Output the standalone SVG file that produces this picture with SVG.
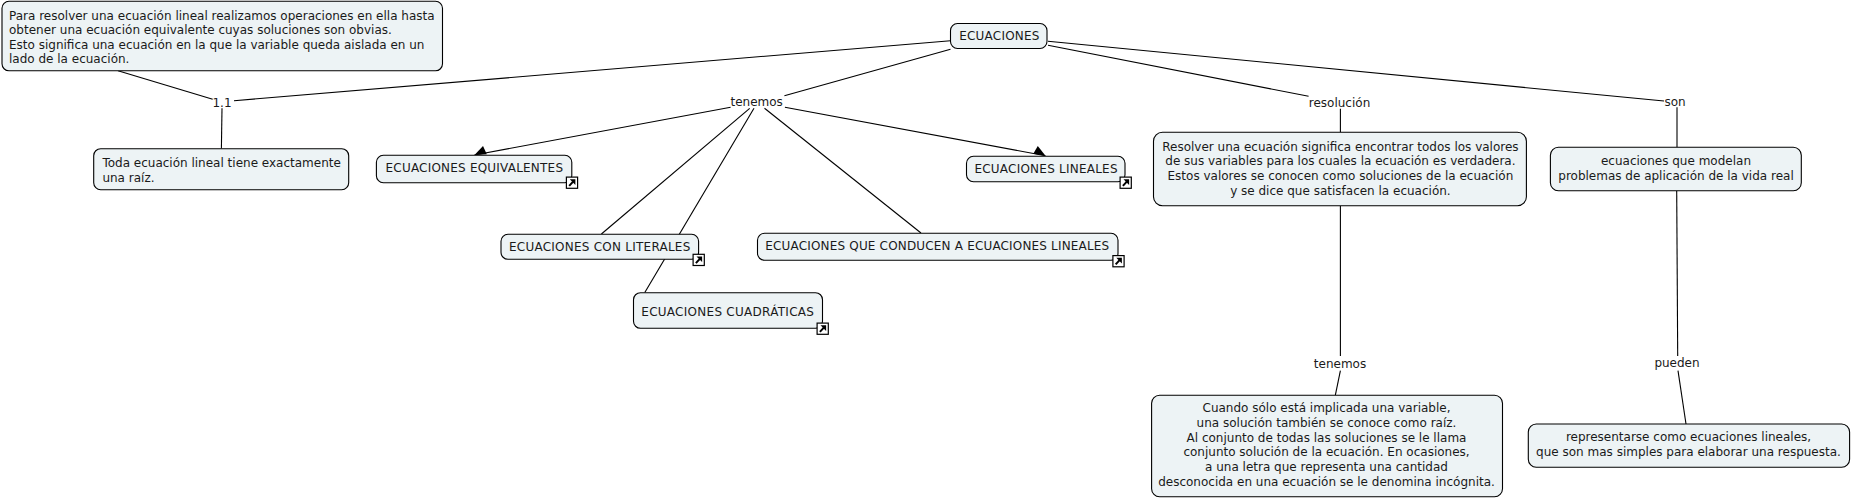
<svg xmlns="http://www.w3.org/2000/svg" width="1852" height="499" viewBox="0 0 1852 499">
<style>
.b{fill:#edf3f5;stroke:#000;stroke-width:1.1}
text{font-family:"DejaVu Sans",Verdana,sans-serif;font-size:12px;fill:#1a1a1a}
.m{text-anchor:middle}
.c line{stroke:#000;stroke-width:1.1}
</style>
<defs>
<marker id="a" markerUnits="userSpaceOnUse" markerWidth="13" markerHeight="11" refX="12" refY="5.5" orient="30"><path d="M0.5 1L12 5.5L0.5 10Z" fill="#000"/></marker>
<marker id="d" markerUnits="userSpaceOnUse" markerWidth="13" markerHeight="11" refX="12" refY="5.5" orient="155"><path d="M0.5 1L12 5.5L0.5 10Z" fill="#000"/></marker>
<g id="i"><rect x="0.6" y="0.6" width="11.2" height="11.2" fill="#fff" stroke="#000" stroke-width="1.2"/><path d="M4 2.8H9.6V8.4Z" fill="#000"/><path d="M7.3 5.1L3.4 9.4" fill="none" stroke="#000" stroke-width="2"/></g>
</defs>
<rect width="1852" height="499" fill="#fff"/>
<g id="connectors" class="c">
<line x1="950.5" y1="40.7" x2="234" y2="100.7"/>
<line x1="212.7" y1="99.3" x2="118" y2="70.7"/>
<line x1="222" y1="108.3" x2="221.4" y2="148.5"/>
<line x1="950.5" y1="49.3" x2="784.4" y2="95.7"/>
<line x1="730.6" y1="107.3" x2="474.5" y2="155" marker-end="url(#d)"/>
<line x1="784.9" y1="107.3" x2="1045.5" y2="155.7" marker-end="url(#a)"/>
<line x1="749.7" y1="108.3" x2="601.4" y2="234"/>
<line x1="754" y1="108.3" x2="644.8" y2="292.5"/>
<line x1="764.5" y1="108.3" x2="921" y2="233"/>
<line x1="1048" y1="45.3" x2="1308.6" y2="96.3"/>
<line x1="1340.4" y1="108.7" x2="1340.4" y2="132.3"/>
<line x1="1048" y1="41.3" x2="1664" y2="101"/>
<line x1="1677" y1="107.3" x2="1677" y2="147.3"/>
<line x1="1340.4" y1="205.7" x2="1340.4" y2="356"/>
<line x1="1340.4" y1="370.7" x2="1335.3" y2="395.3"/>
<line x1="1676.7" y1="190.7" x2="1677.7" y2="356"/>
<line x1="1678" y1="370.7" x2="1686" y2="424"/>
</g>
<g id="n-ecuaciones"><rect class="b" x="950.5" y="23.5" width="96.5" height="25" rx="7"/><text x="959.2" y="40" textLength="80.2">ECUACIONES</text></g>
<g id="n-para"><rect class="b" x="2" y="1.3" width="440.5" height="69.5" rx="7"/>
<text x="9" y="19.6">Para resolver una ecuación lineal realizamos operaciones en ella hasta</text>
<text x="9" y="34">obtener una ecuación equivalente cuyas soluciones son obvias.</text>
<text x="9" y="48.7">Esto significa una ecuación en la que la variable queda aislada en un</text>
<text x="9" y="63">lado de la ecuación.</text></g>
<g id="n-toda"><rect class="b" x="93.7" y="148.7" width="255" height="41" rx="7"/>
<text x="102.4" y="167.4">Toda ecuación lineal tiene exactamente</text><text x="102.4" y="182">una raíz.</text></g>
<g id="n-equivalentes"><rect class="b" x="376.4" y="155.3" width="195.4" height="27.4" rx="7"/><text x="385.5" y="172" textLength="177.5">ECUACIONES EQUIVALENTES</text><use href="#i" x="565.8" y="176.5"/></g>
<g id="n-lineales"><rect class="b" x="966.5" y="156.3" width="158.5" height="25.4" rx="7"/><text x="974.4" y="173" textLength="143.1">ECUACIONES LINEALES</text><use href="#i" x="1119.5" y="176.5"/></g>
<g id="n-literales"><rect class="b" x="501" y="234.3" width="197.6" height="25" rx="7"/><text x="509" y="251" textLength="181.3">ECUACIONES CON LITERALES</text><use href="#i" x="692.5" y="253.7"/></g>
<g id="n-conducen"><rect class="b" x="757.5" y="233.3" width="360.5" height="27" rx="7"/><text x="765.3" y="250" textLength="343.9">ECUACIONES QUE CONDUCEN A ECUACIONES LINEALES</text><use href="#i" x="1112.3" y="255"/></g>
<g id="n-cuadraticas"><rect class="b" x="633.5" y="292.7" width="189" height="35.6" rx="7"/><text x="641.3" y="316" textLength="172.6">ECUACIONES CUADRÁTICAS</text><use href="#i" x="816.5" y="322.5"/></g>
<g id="n-resolver"><rect class="b" x="1153.5" y="132.3" width="372.9" height="73.4" rx="9"/>
<text class="m" x="1340.4" y="150.7">Resolver una ecuación significa encontrar todos los valores</text>
<text class="m" x="1340.4" y="165.3">de sus variables para los cuales la ecuación es verdadera.</text>
<text class="m" x="1340.4" y="180">Estos valores se conocen como soluciones de la ecuación</text>
<text class="m" x="1340.4" y="195">y se dice que satisfacen la ecuación.</text></g>
<g id="n-modelan"><rect class="b" x="1550.4" y="147.3" width="250.9" height="43.4" rx="8"/>
<text class="m" x="1676" y="165">ecuaciones que modelan</text>
<text class="m" x="1676" y="180">problemas de aplicación de la vida real</text></g>
<g id="n-cuando"><rect class="b" x="1151.6" y="395.3" width="350.9" height="101.4" rx="8"/>
<text class="m" x="1326.5" y="412">Cuando sólo está implicada una variable,</text>
<text class="m" x="1326.5" y="427">una solución también se conoce como raíz.</text>
<text class="m" x="1326.5" y="441.5">Al conjunto de todas las soluciones se le llama</text>
<text class="m" x="1326.5" y="456">conjunto solución de la ecuación. En ocasiones,</text>
<text class="m" x="1326.5" y="471">a una letra que representa una cantidad</text>
<text class="m" x="1326.5" y="485.7">desconocida en una ecuación se le denomina incógnita.</text></g>
<g id="n-representarse"><rect class="b" x="1528.3" y="424" width="321.3" height="43.3" rx="8"/>
<text class="m" x="1688.5" y="441">representarse como ecuaciones lineales,</text>
<text class="m" x="1688.5" y="456">que son mas simples para elaborar una respuesta.</text></g>
<g id="l-11"><text class="m" x="222" y="107">1.1</text></g>
<g id="l-tenemos1"><text class="m" x="756.7" y="106">tenemos</text></g>
<g id="l-resolucion"><text class="m" x="1339.5" y="106.5">resolución</text></g>
<g id="l-son"><text class="m" x="1675" y="106">son</text></g>
<g id="l-tenemos2"><text class="m" x="1340" y="368">tenemos</text></g>
<g id="l-pueden"><text class="m" x="1677" y="367">pueden</text></g>
</svg>
